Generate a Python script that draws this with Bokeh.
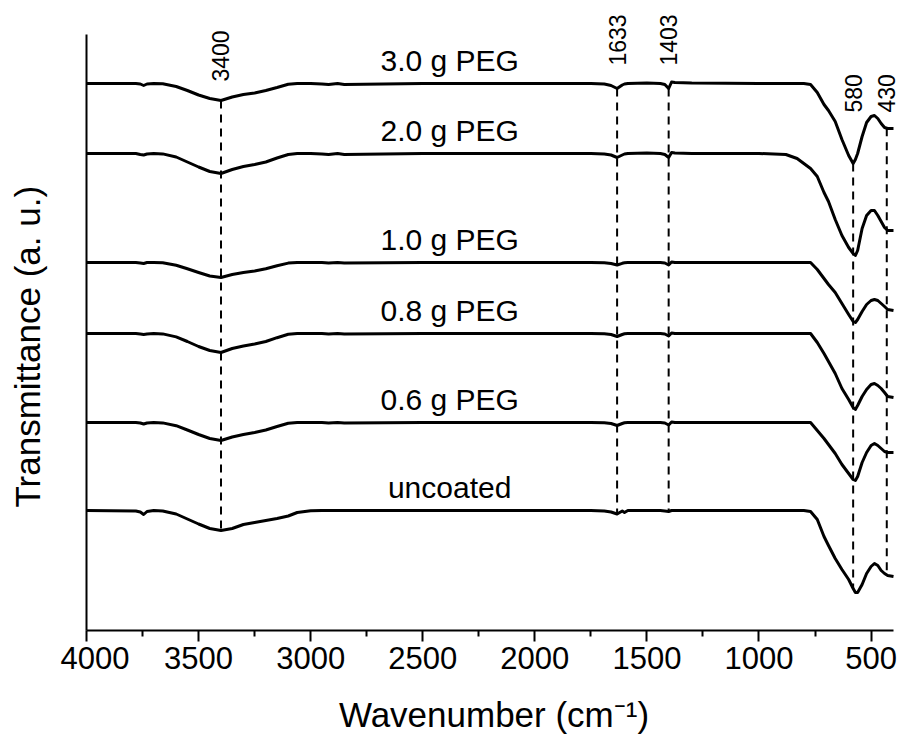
import numpy as np
from bokeh.plotting import figure
from bokeh.layouts import row
from bokeh.models import Range1d, FixedTicker
from bokeh.core.properties import value
from bokeh.embed import file_html
from bokeh.resources import INLINE

# ---------------- data ----------------
WAVENUMBER = [4000, 3780, 3760, 3745, 3730, 3700, 3660,
              3600, 3550, 3500, 3450, 3400, 3350, 3300, 3250, 3200, 3150, 3100, 3060, 3000,
              2950, 2920, 2880, 2850, 2500,
              2000, 1750, 1690, 1660, 1633, 1610, 1600, 1585, 1500, 1440, 1420, 1403, 1390, 1375, 1300,
              1000, 880, 830, 800, 770, 740, 710, 690, 660, 630, 600, 580, 570, 560, 540, 520, 500,
              485, 470, 455, 440, 426, 400]

# band depth below each trace's baseline (a.u.)
DIP_3_0 = [0, 0, 0.5, 2, 0.5, 0, 0.3,
           3, 7, 11.5, 15, 17, 13.5, 11, 9.5, 7, 4, 0.7, 0, 0,
           0.5, 1, 0, 1, 0,
           0, 0, 0.5, 2, 5, 1.5, 0.5, 0, -0.5, 0, 1, 5, -1.5, -1, -0.5,
           0, 0, 0, 0, 1, 9, 21, 27, 38, 56, 72, 80, 76, 70, 53, 39, 33,
           32, 35, 40, 44, 45, 45]
DIP_2_0 = [0, 0, 1, 1.5, 0.5, 0, 0.4,
           3.5, 8.5, 13.5, 18, 20, 16, 13, 11, 8.5, 4.5, 1, 0, 0,
           0.5, 1, 0, 1, 0,
           0, 0, 0.5, 1.5, 4, 1.5, 0.5, 0, -0.5, 0, 1, 4, -1, -0.5, 0,
           0, 1, 5, 10, 15, 23, 39, 48, 66, 82, 94, 100, 102, 97, 75, 62, 57,
           57, 62, 68, 74, 77, 77]
DIP_1_0 = [0, 0, 0.5, 1, 0, 0, 0.3,
           2.7, 6.3, 10, 13.5, 15, 12, 10, 8.5, 6.3, 3.3, 0.6, 0, 0,
           0, 0.5, 0, 0.5, 0,
           0, 0, 0.3, 1, 2.5, 0.8, 0.3, 0, 0, 0, 0.5, 2.5, -0.5, 0, 0,
           0, 0, 0, 0, 0, 7, 16, 22, 30, 41, 52, 59, 60, 57, 49, 42, 38,
           37, 38, 41, 44, 47, 48]
DIP_0_8 = [0, 0, 0.5, 1, 0.5, 0, 0.4,
           3.4, 8, 13, 17, 19, 15, 12.5, 10.5, 8, 4.2, 0.8, 0, 0,
           0, 0.5, 0, 0.5, 0,
           0, 0, 0.3, 1, 3, 1, 0.3, 0, 0, 0, 0.5, 2.5, -0.5, 0, 0,
           0, 0, 0, 0, 0, 9, 20, 28, 40, 55, 66, 74, 76, 72, 63, 56, 51,
           50, 52, 55, 59, 63, 64]
DIP_0_6 = [0, 0, 0.5, 1.5, 0.5, 0, 0.4,
           3.2, 7.5, 12, 16, 18, 14.5, 12, 10, 7.5, 4, 0.7, 0, 0,
           0, 0.5, 0, 0.5, 0,
           0, 0, 0.3, 1, 3, 1, 0.3, 0, 0, 0, 0.5, 2.5, -0.5, 0, 0,
           0, 0, 0, 0, 0, 8, 16, 22, 31, 42, 51, 57, 58, 54, 40, 30, 23,
           21, 23, 26, 29, 30, 30]
DIP_UNCOATED = [0, 0.5, 1.5, 4, 1, 0, 0.5,
                3.5, 8.5, 13.5, 18, 20, 18, 14, 12, 10, 8, 5.5, 2, 0.3,
                0, 0, 0, 0, 0,
                0, 0, 0.5, 1.5, 3.5, 0.5, 2, 0, 0, 0, 0.5, 1, 0, 0, 0,
                0, 0, 0, 0, 1, 9, 26, 35, 48, 59, 69, 78, 82, 82, 74, 63, 56,
                53, 55, 60, 63, 65, 66]

SERIES = ["uncoated", "0.6 g PEG", "0.8 g PEG", "1.0 g PEG", "2.0 g PEG", "3.0 g PEG"]
DIPS = [DIP_UNCOATED, DIP_0_6, DIP_0_8, DIP_1_0, DIP_2_0, DIP_3_0]
OFFSETS = [120, 208, 297, 368, 477, 547]

PEAKS = [3400, 1633, 1403, 580, 430]
PEAK_LABELS = ["3400", "1633", "1403", "580", "430"]

X_TICKS = [4000, 3500, 3000, 2500, 2000, 1500, 1000, 500]
X_MINOR = [3750, 3250, 2750, 2250, 1750, 1250, 750]

Y_TITLE = "Transmittance (a. u.)"
X_TITLE = "Wavenumber (cm\u207b\u00b9)"

# ---------------- layout ----------------
FONT = "Liberation Sans"
LABEL_WN = 2380
LABEL_PAD = 23
PEAK_LABEL_Y = [549, 565, 565, 518, 518]
X_VIEW = (4000, 364.3)     # axis drawn 4000..400, frame has a little extra room
Y_VIEW = (0, 630)          # axis drawn 0..596, room above for peak labels
TITLE_W = 60
Y_TITLE_POS = (27, 123)    # in the title strip (frame aligned with main plot): start of title

# narrow strip holding the vertical axis title
tfig = figure(width=TITLE_W, height=743, x_range=Range1d(0, TITLE_W), y_range=Range1d(*Y_VIEW),
              output_backend="svg", toolbar_location=None, min_border=0)
tfig.axis.visible = False
tfig.grid.visible = False
tfig.outline_line_color = None
tfig.background_fill_color = "white"
tfig.border_fill_color = "white"
tfig.text(x=[Y_TITLE_POS[0]], y=[Y_TITLE_POS[1]], text=[Y_TITLE], angle=np.pi / 2,
          text_font=value(FONT), text_font_size="35px", text_color="black",
          text_align="left", text_baseline="middle")

p = figure(width=901 - TITLE_W, height=743, x_range=Range1d(*X_VIEW), y_range=Range1d(*Y_VIEW),
           output_backend="svg", toolbar_location=None,
           min_border_left=86 - TITLE_W, min_border_right=0, min_border_top=0,
           min_border_bottom=113)
p.outline_line_color = None
p.xgrid.visible = False
p.ygrid.visible = False
p.background_fill_color = "white"
p.border_fill_color = "white"

wn = np.array(WAVENUMBER, dtype=float)
curves = []
for dip, off in zip(DIPS, OFFSETS):
    y = off - np.array(dip, dtype=float)
    curves.append(y)
    p.line(wn, y, line_width=3, line_color="black", line_join="round")

# dashed marker lines from top trace down to bottom trace
tops, bottoms = [], []
for pk in PEAKS:
    tops.append(float(np.interp(pk, wn[::-1], curves[-1][::-1])))
    bottoms.append(float(np.interp(pk, wn[::-1], curves[0][::-1])))
p.segment(x0=PEAKS, y0=tops, x1=PEAKS, y1=bottoms, line_color="black",
          line_width=2, line_dash="8 6")

p.text(x=[LABEL_WN] * len(SERIES), y=[o + LABEL_PAD for o in OFFSETS], text=SERIES,
       text_font=value(FONT), text_font_size="30px", text_color="black",
       text_align="center", text_baseline="alphabetic")

p.text(x=PEAKS, y=PEAK_LABEL_Y, text=PEAK_LABELS, angle=np.pi / 2,
       text_font=value(FONT), text_font_size="23px", text_color="black",
       text_align="left", text_baseline="middle")

xa = p.xaxis[0]
xa.bounds = (4000, 400)
xa.ticker = FixedTicker(ticks=X_TICKS, minor_ticks=X_MINOR)
xa.axis_line_width = 2
xa.axis_line_color = "black"
xa.major_tick_line_width = 2
xa.major_tick_line_color = "black"
xa.major_tick_out = 11
xa.major_tick_in = 0
xa.minor_tick_line_width = 2
xa.minor_tick_line_color = "black"
xa.minor_tick_out = 6
xa.minor_tick_in = 0
xa.major_label_text_font = FONT
xa.major_label_text_font_size = "31px"
xa.major_label_text_color = "black"
xa.major_label_standoff = 5
xa.axis_label = X_TITLE
xa.axis_label_text_font = FONT
xa.axis_label_text_font_size = "35px"
xa.axis_label_text_font_style = "normal"
xa.axis_label_text_color = "black"
xa.axis_label_standoff = 23

ya = p.yaxis[0]
ya.bounds = (0, 596)
ya.ticker = FixedTicker(ticks=[])
ya.axis_line_width = 2
ya.axis_line_color = "black"
ya.major_tick_line_color = None
ya.minor_tick_line_color = None
ya.major_label_text_font_size = "0px"

layout = row(tfig, p, spacing=0)
open("out.html", "w").write(file_html(layout, INLINE))
